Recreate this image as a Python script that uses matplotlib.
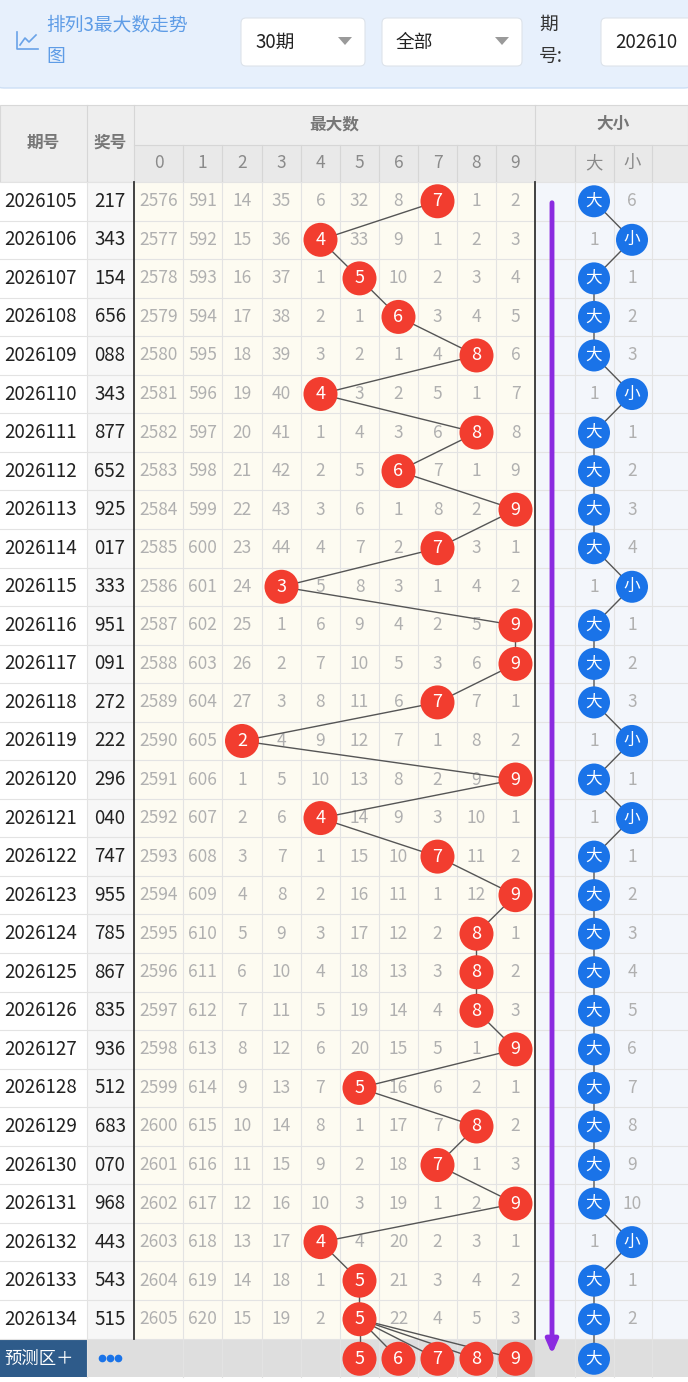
import matplotlib
matplotlib.use("Agg")
import matplotlib.pyplot as plt
from matplotlib.patches import FancyBboxPatch, Rectangle, Circle, Polygon

plt.rcParams['font.family'] = ['Noto Sans CJK SC', 'DejaVu Sans']

# ── data ────────────────────────────────────────────────────────────────
periods = [str(p) for p in range(2026105, 2026135)]
draws = ["217", "343", "154", "656", "088", "343", "877", "652", "925", "017",
         "333", "951", "091", "272", "222", "296", "040", "747", "955", "785",
         "867", "835", "936", "512", "683", "070", "968", "443", "543", "515"]
max_digit = [7, 4, 5, 6, 8, 4, 8, 6, 9, 7, 3, 9, 9, 7, 2, 9, 4, 7, 9, 8,
             8, 8, 9, 5, 8, 7, 9, 4, 5, 5]
# omission values per digit column (the max-digit cell is drawn as a ball)
omission = [
    [2576, 591, 14, 35, 6, 32, 8, 0, 1, 2],
    [2577, 592, 15, 36, 0, 33, 9, 1, 2, 3],
    [2578, 593, 16, 37, 1, 0, 10, 2, 3, 4],
    [2579, 594, 17, 38, 2, 1, 0, 3, 4, 5],
    [2580, 595, 18, 39, 3, 2, 1, 4, 0, 6],
    [2581, 596, 19, 40, 0, 3, 2, 5, 1, 7],
    [2582, 597, 20, 41, 1, 4, 3, 6, 0, 8],
    [2583, 598, 21, 42, 2, 5, 0, 7, 1, 9],
    [2584, 599, 22, 43, 3, 6, 1, 8, 2, 0],
    [2585, 600, 23, 44, 4, 7, 2, 0, 3, 1],
    [2586, 601, 24, 0, 5, 8, 3, 1, 4, 2],
    [2587, 602, 25, 1, 6, 9, 4, 2, 5, 0],
    [2588, 603, 26, 2, 7, 10, 5, 3, 6, 0],
    [2589, 604, 27, 3, 8, 11, 6, 0, 7, 1],
    [2590, 605, 0, 4, 9, 12, 7, 1, 8, 2],
    [2591, 606, 1, 5, 10, 13, 8, 2, 9, 0],
    [2592, 607, 2, 6, 0, 14, 9, 3, 10, 1],
    [2593, 608, 3, 7, 1, 15, 10, 0, 11, 2],
    [2594, 609, 4, 8, 2, 16, 11, 1, 12, 0],
    [2595, 610, 5, 9, 3, 17, 12, 2, 0, 1],
    [2596, 611, 6, 10, 4, 18, 13, 3, 0, 2],
    [2597, 612, 7, 11, 5, 19, 14, 4, 0, 3],
    [2598, 613, 8, 12, 6, 20, 15, 5, 1, 0],
    [2599, 614, 9, 13, 7, 0, 16, 6, 2, 1],
    [2600, 615, 10, 14, 8, 1, 17, 7, 0, 2],
    [2601, 616, 11, 15, 9, 2, 18, 0, 1, 3],
    [2602, 617, 12, 16, 10, 3, 19, 1, 2, 0],
    [2603, 618, 13, 17, 0, 4, 20, 2, 3, 1],
    [2604, 619, 14, 18, 1, 0, 21, 3, 4, 2],
    [2605, 620, 15, 19, 2, 0, 22, 4, 5, 3],
]
size_label = ["大", "小", "大", "大", "大", "小", "大", "大", "大", "大",
              "小", "大", "大", "大", "小", "大", "小", "大", "大", "大",
              "大", "大", "大", "大", "大", "大", "大", "小", "大", "大"]
size_miss = [6, 1, 1, 2, 3, 1, 1, 2, 3, 4, 1, 1, 2, 3, 1, 1, 1, 1, 2, 3,
             4, 5, 6, 7, 8, 9, 10, 1, 1, 2]
predict_digits = [5, 6, 7, 8, 9]
predict_size = "大"

# ── layout (pixel coordinates) ───────────────────────────────────────────
W, H = 688, 1382
col_edges = [134, 183, 222, 262, 301, 340, 379, 418, 457, 496, 535]
col_cx = [(a + b) / 2 for a, b in zip(col_edges[:-1], col_edges[1:])]
row_top, row_h = 182, 38.55
n = len(periods)
pred_top = row_top + n * row_h
pred_cy = pred_top + row_h / 2 + 1
RED, BLUE, GREY, LINE = "#f23d2f", "#1a73e8", "#b0b0b0", "#e3e3e3"
size_cx = {"大": 594, "小": 632}

fig = plt.figure(figsize=(W / 100, H / 100), dpi=100)
ax = fig.add_axes([0, 0, 1, 1])
ax.set_xlim(0, W); ax.set_ylim(H, 0); ax.axis("off")

def rc(y):
    return row_top + y * row_h + row_h / 2

# top toolbar
ax.add_patch(FancyBboxPatch((-8, -10), W + 16, 98, boxstyle="round,pad=0,rounding_size=12",
                            fc="#e7f0fc", ec="#cddff5", lw=1))
ax.plot([17, 17, 38], [32, 49, 49], color="#6aa3e8", lw=1.2)
ax.plot([20, 25, 29, 36], [45, 38, 42, 35], color="#6aa3e8", lw=1.2)
ax.text(46, 25, "排列3最大数走势", color="#5e9ce6", fontsize=13.5, va="center")
ax.text(46, 56, "图", color="#5e9ce6", fontsize=13.5, va="center")
for x0, x1, label in [(241, 365, "30期"), (382, 522, "全部"), (601, 700, "202610")]:
    ax.add_patch(FancyBboxPatch((x0, 18), x1 - x0, 48, boxstyle="round,pad=0,rounding_size=5",
                                fc="white", ec="#dde3ea", lw=0.8))
    ax.text(x0 + 14, 42, label, fontsize=13.5, va="center", color="#222222")
    if x1 < 690:
        ax.add_patch(Polygon([[x1 - 27, 37], [x1 - 13, 37], [x1 - 20, 45]], fc="#9a9a9a", ec="none"))
ax.text(539, 24, "期", fontsize=13.5, va="center", color="#333333")
ax.text(539, 56, "号:", fontsize=13.5, va="center", color="#333333")

# header
ax.add_patch(Rectangle((0, 105), W, 77, fc="#eeeeee", ec="#d8d8d8", lw=0.8))
ax.add_patch(Rectangle((134, 145), W - 134, 37, fc="#e9e9e9", ec="none"))
ax.text(43, 143, "期号", ha="center", va="center", fontsize=12, color="#777777", weight="bold")
ax.text(110, 143, "奖号", ha="center", va="center", fontsize=12, color="#777777", weight="bold")
ax.text(334, 124, "最大数", ha="center", va="center", fontsize=12, color="#777777", weight="bold")
ax.text(613, 124, "大小", ha="center", va="center", fontsize=12, color="#777777", weight="bold")
for d, cx in enumerate(col_cx):
    ax.text(cx, 163, str(d), ha="center", va="center", fontsize=12.5, color="#8a8a8a")
ax.text(594, 163, "大", ha="center", va="center", fontsize=12.5, color="#8a8a8a")
ax.text(632, 163, "小", ha="center", va="center", fontsize=12.5, color="#8a8a8a")
for x in [87, 134, 535, 575, 614, 652]:
    ax.plot([x, x], [105 if x in (87, 134, 535) else 145, 182], color="#d6d6d6", lw=0.8)
ax.plot([134, W], [145, 145], color="#d6d6d6", lw=0.8)
for x in col_edges[1:-1]:
    ax.plot([x, x], [145, 182], color="#d6d6d6", lw=0.8)

# body backgrounds
ax.add_patch(Rectangle((0, row_top), 87, n * row_h, fc="white", ec="none"))
ax.add_patch(Rectangle((87, row_top), 47, n * row_h, fc="#f7f7f7", ec="none"))
ax.add_patch(Rectangle((134, row_top), 401, n * row_h, fc="#fdfbf1", ec="none"))
ax.add_patch(Rectangle((535, row_top), W - 535, n * row_h, fc="#f3f6fb", ec="none"))
for i in range(n + 1):
    ax.plot([0, W], [row_top + i * row_h] * 2, color=LINE, lw=0.8)
for x in [87] + col_edges[1:-1] + [575, 614, 652]:
    ax.plot([x, x], [row_top, pred_top + row_h], color=LINE, lw=0.8)
for x in [134, 535]:
    ax.plot([x, x], [row_top, pred_top], color="#333333", lw=1.3)

# prediction row
ax.add_patch(Rectangle((0, pred_top), W, row_h, fc="#dedede", ec="none"))
ax.add_patch(Rectangle((0, pred_top), 87, row_h, fc="#2e5b8a", ec="none"))
ax.add_patch(Rectangle((496, pred_top), 39, row_h, fc="#d2d2d2", ec="none"))
ax.text(4, pred_cy, "预测区＋", va="center", fontsize=12.5, color="white")
ax.plot([102, 110, 118], [pred_cy - 1] * 3, "o", ms=4.5, color=BLUE)

# omission values and text columns
for i in range(n):
    y = rc(i)
    ax.text(4, y, periods[i], va="center", fontsize=13.5, color="#222222")
    ax.text(110, y, draws[i], ha="center", va="center", fontsize=13.5, color="#222222")
    for d in range(10):
        if d != max_digit[i]:
            ax.text(col_cx[d], y, str(omission[i][d]), ha="center", va="center",
                    fontsize=12.5, color=GREY)
    other = "小" if size_label[i] == "大" else "大"
    ax.text(size_cx[other], y, str(size_miss[i]), ha="center", va="center",
            fontsize=12.5, color=GREY)

# trend lines + balls for max digit
xs = [col_cx[d] for d in max_digit]
ys = [rc(i) for i in range(n)]
ax.plot(xs, ys, color="#555555", lw=1, zorder=3)
for d in predict_digits:
    ax.plot([xs[-1], col_cx[d]], [ys[-1], pred_cy], color="#555555", lw=1, zorder=3)
for x, y, d in list(zip(xs, ys, max_digit)) + [(col_cx[d], pred_cy, d) for d in predict_digits]:
    ax.add_patch(Circle((x, y), 17, fc=RED, ec="none", zorder=4))
    ax.text(x, y, str(d), ha="center", va="center", fontsize=13, color="white", zorder=5)

# size trend
sx = [size_cx[s] for s in size_label] + [size_cx[predict_size]]
sy = ys + [pred_cy]
ax.plot(sx, sy, color="#555555", lw=1, zorder=3)
for x, y, s in zip(sx, sy, size_label + [predict_size]):
    ax.add_patch(Circle((x, y), 16, fc=BLUE, ec="none", zorder=4))
    ax.text(x, y, s, ha="center", va="center", fontsize=12, color="white", zorder=5)

# purple arrow
ax.annotate("", xy=(552, 1357), xytext=(552, 200),
            arrowprops=dict(arrowstyle="-|>,head_width=0.35,head_length=0.8",
                            color="#8b2be0", lw=3.5), zorder=6)

fig.savefig("out.png", dpi=100)
